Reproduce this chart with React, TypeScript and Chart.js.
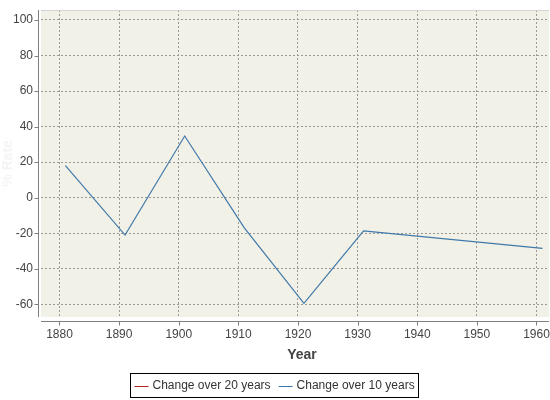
import React, { useEffect, useRef } from 'react';
import { Chart, registerables } from 'chart.js';

Chart.register(...registerables);

// Data
const years10 = [1881, 1891, 1901, 1911, 1921, 1931, 1961];
const change10 = [18, -21, 34.7, -17, -59.4, -18.7, -28.5];
const years20: number[] = [];
const change20: number[] = [];
const seriesLabels = ['Change over 20 years', 'Change over 10 years'];
const seriesColors = ['#b22222', '#3f78aa'];
const xTitle = 'Year';
const yTitle = '% Rate';

const FONT = '"Liberation Sans", Arial, sans-serif';

const customPlugin = {
  id: 'jfreeLook',
  beforeDraw(chart: any) {
    const { ctx, chartArea: a } = chart;
    ctx.save();
    ctx.fillStyle = '#f2f1e7';
    ctx.fillRect(a.left, a.top, a.right - a.left, a.bottom - a.top);
    ctx.restore();
  },
  afterDraw(chart: any) {
    const { ctx, chartArea: a, scales } = chart;
    ctx.save();
    // plot outline
    ctx.strokeStyle = '#d4d4d4';
    ctx.lineWidth = 1;
    ctx.beginPath();
    ctx.moveTo(a.left, a.top + 0.5);
    ctx.lineTo(a.right, a.top + 0.5);
    ctx.stroke();
    // axes
    ctx.strokeStyle = '#808080';
    ctx.beginPath();
    const ax = a.left - 2.5;
    ctx.moveTo(ax, a.top);
    ctx.lineTo(ax, a.bottom);
    const ay = a.bottom + 4.5;
    ctx.moveTo(a.left, ay);
    ctx.lineTo(a.right, ay);
    // ticks
    scales.y.ticks.forEach((t: any) => {
      const py = Math.round(scales.y.getPixelForValue(t.value)) + 0.5;
      ctx.moveTo(ax - 4, py);
      ctx.lineTo(ax, py);
    });
    scales.x.ticks.forEach((t: any) => {
      const px = Math.round(scales.x.getPixelForValue(t.value)) + 0.5;
      ctx.moveTo(px, ay);
      ctx.lineTo(px, ay + 4);
    });
    ctx.stroke();

    // x title
    ctx.fillStyle = '#444444';
    ctx.font = 'bold 14px ' + FONT;
    ctx.textAlign = 'center';
    ctx.textBaseline = 'middle';
    ctx.fillText(xTitle, (a.left + a.right) / 2 + 7, 355);

    // legend
    ctx.font = '12px ' + FONT;
    const lineLen = 14;
    const gap = 4;
    const itemGap = 8;
    const pad = 4;
    const widths = seriesLabels.map((l) => ctx.measureText(l).width);
    const total = widths.reduce((s, w) => s + lineLen + gap + w, 0) + itemGap * (seriesLabels.length - 1) + pad * 2;
    const cx = 274;
    const bx = Math.round(cx - total / 2) + 0.5;
    const by = 373.5;
    const bh = 24;
    ctx.strokeStyle = '#000000';
    ctx.lineWidth = 1;
    ctx.strokeRect(bx, by, Math.round(total), bh);
    let x = bx + pad;
    const my = by + bh / 2;
    seriesLabels.forEach((l, i) => {
      ctx.strokeStyle = seriesColors[i];
      ctx.beginPath();
      ctx.moveTo(x, Math.round(my) + 0.5);
      ctx.lineTo(x + lineLen, Math.round(my) + 0.5);
      ctx.stroke();
      x += lineLen + gap;
      ctx.fillStyle = '#333333';
      ctx.textAlign = 'left';
      ctx.textBaseline = 'middle';
      ctx.fillText(l, x, my);
      x += widths[i] + itemGap;
    });
    ctx.restore();
  },
};

export default function App() {
  const ref = useRef<HTMLCanvasElement | null>(null);

  useEffect(() => {
    document.body.style.margin = '0';
    const canvas = ref.current;
    if (!canvas) return;
    const chart = new Chart(canvas, {
      type: 'line',
      data: {
        datasets: [
          {
            label: seriesLabels[0],
            data: years20.map((y, i) => ({ x: y, y: change20[i] })),
            borderColor: seriesColors[0],
            borderWidth: 1.2,
            pointRadius: 0,
            fill: false,
          },
          {
            label: seriesLabels[1],
            data: years10.map((y, i) => ({ x: y, y: change10[i] })),
            borderColor: seriesColors[1],
            borderWidth: 1.2,
            pointRadius: 0,
            fill: false,
            tension: 0,
          },
        ],
      },
      options: {
        animation: false,
        responsive: false,
        maintainAspectRatio: false,
        layout: { padding: { left: 0, top: 10, right: 1, bottom: 0 } },
        plugins: {
          legend: { display: false },
          tooltip: { enabled: false },
        },
        scales: {
          x: {
            type: 'linear',
            min: 1876.9,
            max: 1962.1,
            afterFit: (s: any) => {
              s.height = 83;
              s.paddingLeft = 0;
              s.paddingRight = 0;
            },
            ticks: {
              stepSize: 10,
              includeBounds: false,
              padding: 10,
              color: '#444444',
              font: { family: FONT, size: 12 },
              callback: (v: any) => String(v),
            },
            grid: { color: '#999999', lineWidth: 1, drawTicks: false },
            border: { display: false, dash: [2, 2] },
            title: { display: false },
          },
          y: {
            type: 'linear',
            min: -67.1,
            max: 105.6,
            afterFit: (s: any) => {
              s.width = 41;
              s.paddingTop = 0;
              s.paddingBottom = 0;
            },
            ticks: {
              stepSize: 20,
              includeBounds: false,
              padding: 8,
              color: '#444444',
              font: { family: FONT, size: 12 },
            },
            grid: { color: '#999999', lineWidth: 1, drawTicks: false },
            border: { display: false, dash: [2, 2] },
            title: {
              display: true,
              text: yTitle,
              color: '#f4f4f4',
              font: { family: FONT, size: 14, weight: 'bold' },
              padding: { top: 0, bottom: 0 },
            },
          },
        },
      },
      plugins: [customPlugin],
    } as any);
    return () => chart.destroy();
  }, []);

  return (
    <div style={{ width: 550, height: 400, background: '#ffffff' }}>
      <canvas ref={ref} width={550} height={400} style={{ display: 'block' }} />
    </div>
  );
}
